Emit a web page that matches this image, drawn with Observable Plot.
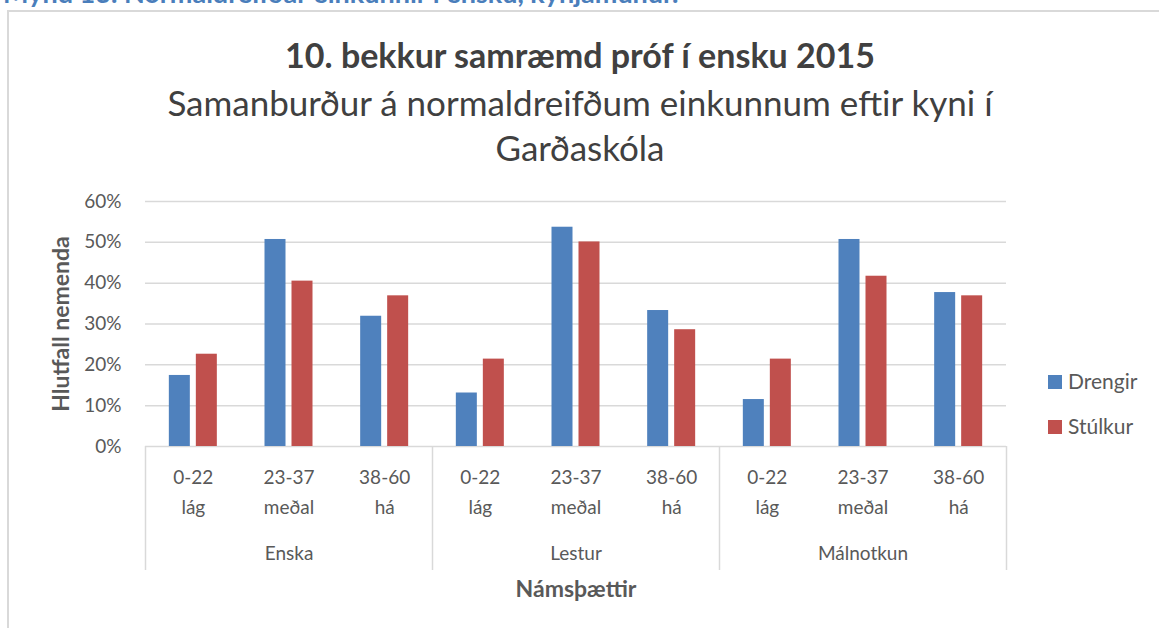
<!DOCTYPE html>
<html>
<head>
<meta charset="utf-8">
<script src="https://cdn.jsdelivr.net/npm/d3@7"></script>
<script src="https://cdn.jsdelivr.net/npm/@observablehq/plot@0.6"></script>
<style>
  html, body { margin: 0; padding: 0; background: #fff; }
  body { width: 1159px; height: 628px; overflow: hidden; position: relative; font-family: Lato, "Open Sans", sans-serif; }
  #heading { position: absolute; left: 3px; top: -22px; line-height: 30px; font-weight: bold; font-size: 27px; color: #4a7ebb; white-space: nowrap; }
  #frame { position: absolute; left: 7px; top: 10px; width: 1300px; height: 800px; border: 2px solid #d9d9d9; box-sizing: border-box; }
  #chart { position: absolute; left: 0; top: 0; }
  .ttl { position: absolute; left: 0; width: 1160px; text-align: center; color: #404040; white-space: nowrap; }
  #t1 { top: 33px; font-size: 34px; line-height: 44px; font-weight: bold; }
  #t2 { top: 80px; font-size: 35px; line-height: 45px; }
  #legend { position: absolute; left: 1048px; top: 368px; font-size: 21px; color: #595959; }
  #legend div { height: 45px; display: flex; align-items: flex-start; }
  #legend span.sw { display: inline-block; width: 14px; height: 14px; margin-right: 6px; margin-top: 7px; }
</style>
</head>
<body>
<div id="heading">Mynd 13. Normaldreifðar einkunnir í ensku, kynjamunur.</div>
<div id="frame"></div>
<div id="chart"></div>
<div id="t1" class="ttl"></div>
<div id="t2" class="ttl"></div>
<div id="legend"></div>
<script>
// ---- data ----
const groups = ["Enska", "Lestur", "Málnotkun"];
const levels = ["0-22\nlág", "23-37\nmeðal", "38-60\nhá"];
const seriesNames = ["Drengir", "Stúlkur"];
const seriesColors = ["#4f81bd", "#c0504d"];
const drengir = [17.4, 50.7, 31.9, 13.1, 53.7, 33.3, 11.5, 50.7, 37.7];
const stulkur = [22.6, 40.5, 36.9, 21.4, 50.1, 28.6, 21.4, 41.7, 36.9];
const yTicks = [0, 10, 20, 30, 40, 50, 60];
const chartTitle = "10. bekkur samræmd próf í ensku 2015";
const chartSubtitle = "Samanburður á normaldreifðum einkunnum eftir kyni í<br>Garðaskóla";
const yTitle = "Hlutfall nemenda";
const xTitle = "Námsþættir";

// ---- build table ----
const keys = [];
groups.forEach(g => levels.forEach(l => keys.push(g + "|" + l)));
const rows = [];
keys.forEach((k, i) => {
  rows.push({key: k, series: seriesNames[0], value: drengir[i]});
  rows.push({key: k, series: seriesNames[1], value: stulkur[i]});
});

const W = 1159, H = 628;
const mL = 145, mR = 153, mT = 201, mB = 182;
const bw = (W - mL - mR) / keys.length;
const barW = 21, gap = 6;
const side = (bw - 2 * barW - gap) / 2;

const txt = "#595959";
const plot = Plot.plot({
  width: W, height: H,
  marginLeft: mL, marginRight: mR, marginTop: mT, marginBottom: mB,
  style: {background: "none", fontFamily: "Lato, 'Open Sans', sans-serif", color: txt},
  x: {type: "band", domain: keys, padding: 0, round: false},
  y: {domain: [0, 60]},
  color: {domain: seriesNames, range: seriesColors},
  marks: [
    Plot.gridY(yTicks, {stroke: "#d9d9d9", strokeOpacity: 1, strokeWidth: 1.5}),
    Plot.barY(rows.filter(d => d.series === seriesNames[0]), {
      x: "key", y: "value", fill: "series",
      insetLeft: side, insetRight: side + barW + gap
    }),
    Plot.barY(rows.filter(d => d.series === seriesNames[1]), {
      x: "key", y: "value", fill: "series",
      insetLeft: side + barW + gap, insetRight: side
    }),
    Plot.axisY(yTicks, {
      tickSize: 0, tickPadding: 24, fontSize: 19, fill: txt,
      tickFormat: d => d + "%", label: null
    }),
    Plot.axisX({
      tickSize: 0, tickPadding: 16, fontSize: 19, fill: txt, lineHeight: 1.58,
      tickFormat: d => d.split("|")[1], label: null
    }),
    // group labels
    Plot.text(groups, {
      x: g => g + "|" + levels[1], frameAnchor: "bottom", dy: 113,
      fontSize: 19, fill: txt
    }),
    // group separators
    Plot.ruleX(groups, {
      x: g => g + "|" + levels[0], dx: -bw / 2,
      insetTop: H - mT - mB, insetBottom: -124, stroke: "#d9d9d9", strokeWidth: 1.5
    }),
    Plot.ruleX([groups[groups.length - 1]], {
      x: g => g + "|" + levels[2], dx: bw / 2,
      insetTop: H - mT - mB, insetBottom: -124, stroke: "#d9d9d9", strokeWidth: 1.5
    }),
    // axis titles
    Plot.text([yTitle], {
      frameAnchor: "left", dx: -84, rotate: -90, textAnchor: "middle",
      fontSize: 23, fontWeight: "bold", fill: txt
    }),
    Plot.text([xTitle], {
      frameAnchor: "bottom", dy: 150, textAnchor: "middle",
      fontSize: 23, fontWeight: "bold", fill: txt
    })
  ]
});
document.getElementById("chart").appendChild(plot);

document.getElementById("t1").textContent = chartTitle;
document.getElementById("t2").innerHTML = chartSubtitle;

const leg = document.getElementById("legend");
seriesNames.forEach((s, i) => {
  const d = document.createElement("div");
  d.innerHTML = `<span class="sw" style="background:${seriesColors[i]}"></span><span>${s}</span>`;
  leg.appendChild(d);
});
</script>
</body>
</html>
